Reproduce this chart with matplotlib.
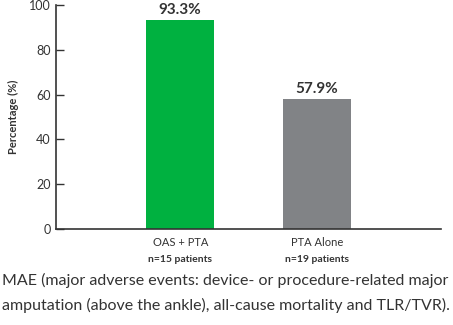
import matplotlib
matplotlib.use("Agg")
import matplotlib.pyplot as plt

groups = ["OAS + PTA", "PTA Alone"]
counts = ["n=15 patients", "n=19 patients"]
values = [93.3, 57.9]
colors = ["#00b140", "#818386"]
caption = ("MAE (major adverse events: device- or procedure-related major\n"
           "amputation (above the ankle), all-cause mortality and TLR/TVR).")

plt.rcParams["font.family"] = ["Lato", "DejaVu Sans"]
txt = "#333333"

fig = plt.figure(figsize=(4.53, 3.25), dpi=100)
ax = fig.add_axes([56 / 453, 1 - 229 / 325, 385 / 453, 224 / 325])

x = range(len(values))
ax.bar(x, values, width=0.5, color=colors)
for i, v in enumerate(values):
    ax.text(i, v + 1.5, f"{v}%", ha="center", va="bottom",
            fontsize=11, fontweight="bold", color=txt)

ax.set_xlim(-0.91, 1.91)
ax.set_ylim(0, 100)
ax.set_yticks(range(0, 101, 20))
ax.tick_params(axis="y", direction="in", length=6, width=1, labelsize=9,
               labelcolor=txt, color="#333333", pad=4)
ax.tick_params(axis="x", length=0)
ax.set_xticks(list(x))
ax.set_xticklabels([""] * len(values))
for i in x:
    ax.text(i, -3.5, groups[i], ha="center", va="top", fontsize=8,
            color=txt, clip_on=False)
    ax.text(i, -11.5, counts[i], ha="center", va="top", fontsize=7.5,
            fontweight="bold", color=txt, clip_on=False)

ax.set_ylabel("Percentage (%)", fontsize=8, fontweight="bold", color=txt, labelpad=7)
for s in ["top", "right"]:
    ax.spines[s].set_visible(False)
for s in ["left", "bottom"]:
    ax.spines[s].set_color("#333333")
    ax.spines[s].set_linewidth(1.2)

fig.text(2 / 453, 1 - 293 / 325, caption, ha="left", va="center",
         fontsize=11.5, color=txt, linespacing=1.9)

fig.savefig("out.png", dpi=100)
